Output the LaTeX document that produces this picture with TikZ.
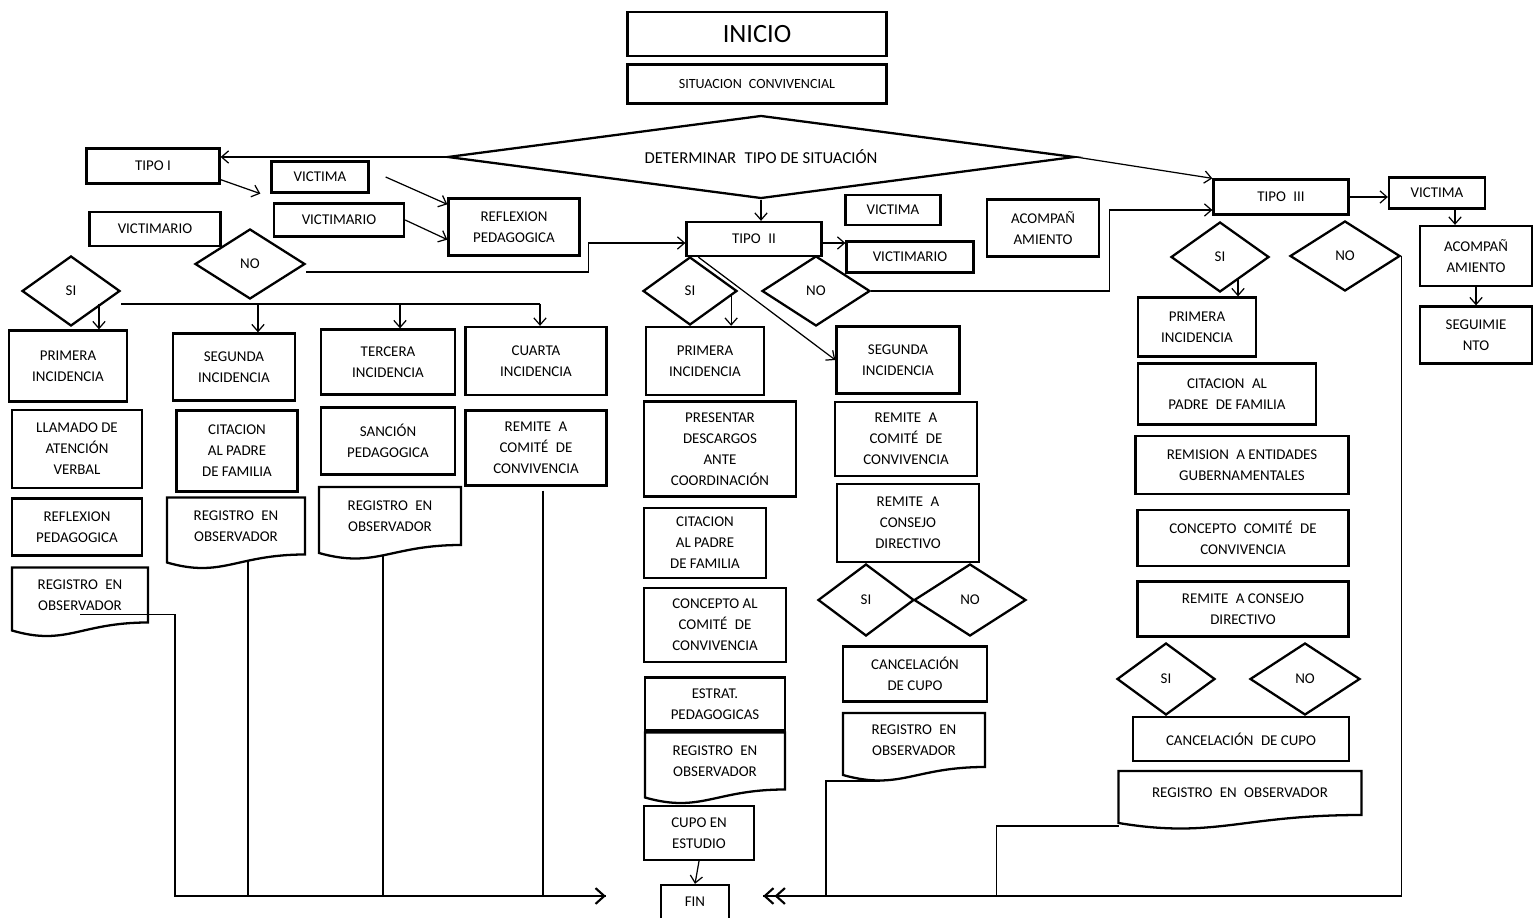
\documentclass[tikz,border=0pt]{standalone}
\usepackage{fontspec}
\setmainfont{Carlito}
\usetikzlibrary{shapes.geometric,calc,arrows.meta}

\tikzset{
  box/.style={draw, line width=1.3pt, align=center, inner sep=1pt, font=\fontsize{8.5}{12}\selectfont},
  docbox/.style={align=center, inner sep=1pt, outer sep=0pt, font=\fontsize{8.5}{12}\selectfont},
  decision/.style={draw, diamond, line width=1.3pt, inner sep=0pt, font=\fontsize{8.5}{12}\selectfont},
  sz/.style 2 args={minimum width=#1*0.02cm, minimum height=#2*0.02cm},
  link/.style={line width=0.7pt, -{Straight Barb[length=4pt,width=7pt]}},
  wire/.style={line width=0.7pt},
  bus/.style={line width=1.2pt},
}

% document shape: straight top and sides, wavy bottom
\newcommand{\docshape}[1]{%
  \draw[line width=1.3pt] (#1.north west) -- (#1.north east) -- (#1.south east)
    .. controls (#1.south) and ($(#1.south west)!0.4!(#1.south east)+(0,24)$)
    .. ($(#1.south west)+(0,8)$) -- cycle;}

\begin{document}
\begin{tikzpicture}[x=0.02cm, y=-0.02cm]

    \useasboundingbox[fill=white] (0,0) rectangle (1534,918);

    % Start and first decision
    \node[box, sz={259}{44}, font=\fontsize{15}{18}\selectfont] (inicio) at (757,34) {INICIO};
    \node[box, sz={259}{39}, font=\fontsize{8}{10}\selectfont] (situacion) at (757,84) {SITUACION\enspace CONVIVENCIAL};
    \node[decision, sz={627}{83}, aspect=7.55, font=\fontsize{9.5}{12}\selectfont] (determinar) at (761,157) {DETERMINAR\enspace TIPO DE SITUACIÓN};

    % Tipo I
    \node[box, sz={133}{35}] (tipoI) at (153,166) {TIPO I};
    \node[box, sz={97}{31}] (victimaI) at (320,177) {VICTIMA};
    \node[box, sz={130}{33}] (victimarioA) at (339,220) {VICTIMARIO};
    \node[box, sz={131}{34}] (victimarioB) at (155,229) {VICTIMARIO};
    \node[box, sz={131}{57}] (reflexionA) at (514,227) {REFLEXION\\PEDAGOGICA};
    \node[decision, sz={110}{70}] (noI) at (250,264) {NO};
    \node[decision, sz={98}{70}] (siI) at (71,291) {SI};

    % Tipo I - incidencias
    \node[box, sz={118}{71}] (primeraI) at (68,366) {PRIMERA\\INCIDENCIA};
    \node[box, sz={130}{78}] (llamado) at (77,449) {LLAMADO DE\\ATENCIÓN\\VERBAL};
    \node[box, sz={130}{57}] (reflexionB) at (77,527) {REFLEXION\\PEDAGOGICA};
    \node[docbox, sz={136}{55}] (registroA) at (80,595) {REGISTRO\enspace EN\\OBSERVADOR};

    \node[box, sz={122}{67}] (segundaI) at (234,367) {SEGUNDA\\INCIDENCIA};
    \node[box, sz={121}{81}] (citacionI) at (237,451) {CITACION\\AL PADRE\\DE FAMILIA};
    \node[docbox, sz={138}{57}] (registroB) at (236,526) {REGISTRO\enspace EN\\OBSERVADOR};

    \node[box, sz={134}{65}] (terceraI) at (388,362) {TERCERA\\INCIDENCIA};
    \node[box, sz={134}{67}] (sancion) at (388,441) {SANCIÓN\\PEDAGOGICA};
    \node[docbox, sz={142}{58}] (registroC) at (390,516) {REGISTRO\enspace EN\\OBSERVADOR};

    \node[box, sz={141}{68}] (cuartaI) at (536,361) {CUARTA\\INCIDENCIA};
    \node[box, sz={141}{75}] (remiteA) at (536,448) {REMITE\enspace A\\COMITÉ\enspace DE\\CONVIVENCIA};

    % Tipo II
    \node[box, sz={135}{34}] (tipoII) at (754,239) {TIPO\enspace II};
    \node[box, sz={95}{30}] (victimaII) at (893,210) {VICTIMA};
    \node[box, sz={127}{31}] (victimarioC) at (910,257) {VICTIMARIO};
    \node[box, sz={112}{57}] (acompA) at (1043,228) {ACOMPAÑ\\AMIENTO};
    \node[decision, sz={94}{68}] (siII) at (690,291) {SI};
    \node[decision, sz={108}{70}] (noII) at (816,291) {NO};

    \node[box, sz={118}{68}] (primeraII) at (705,361) {PRIMERA\\INCIDENCIA};
    \node[box, sz={152}{95}] (presentar) at (720,449) {PRESENTAR\\DESCARGOS\\ANTE\\COORDINACIÓN};
    \node[box, sz={122}{70}] (citacionII) at (705,543) {CITACION\\AL PADRE\\DE FAMILIA};
    \node[box, sz={142}{74}] (conceptoA) at (715,625) {CONCEPTO AL\\COMITÉ\enspace DE\\CONVIVENCIA};
    \node[box, sz={140}{53}] (estrat) at (715,704) {ESTRAT.\\PEDAGOGICAS};
    \node[docbox, sz={140}{57}] (registroD) at (715,761) {REGISTRO\enspace EN\\OBSERVADOR};
    \node[box, sz={110}{54}] (cupo) at (699,833) {CUPO EN\\ESTUDIO};
    \node[box, sz={68}{34}] (fin) at (695,902) {FIN};

    \node[box, sz={123}{67}] (segundaII) at (898,360) {SEGUNDA\\INCIDENCIA};
    \node[box, sz={142}{74}] (remiteB) at (906,439) {REMITE\enspace A\\COMITÉ\enspace DE\\CONVIVENCIA};
    \node[box, sz={142}{78}] (remiteC) at (908,523) {REMITE\enspace A\\CONSEJO\\DIRECTIVO};
    \node[decision, sz={96}{72}] (siIIb) at (866,600) {SI};
    \node[decision, sz={112}{72}] (noIIb) at (970,600) {NO};
    \node[box, sz={144}{55}] (cancelA) at (915,674) {CANCELACIÓN\\DE CUPO};
    \node[docbox, sz={142}{54}] (registroE) at (914,740) {REGISTRO\enspace EN\\OBSERVADOR};

    % Tipo III
    \node[box, sz={135}{35}] (tipoIII) at (1281,197) {TIPO\enspace III};
    \node[box, sz={96}{31}] (victimaIII) at (1437,193) {VICTIMA};
    \node[box, sz={112}{60}] (acompB) at (1476,256) {ACOMPAÑ\\AMIENTO};
    \node[box, sz={112}{57}] (seguim) at (1476,335) {SEGUIMIE\\NTO};
    \node[decision, sz={98}{70}] (siIII) at (1220,257) {SI};
    \node[decision, sz={110}{70}] (noIII) at (1345,256) {NO};
    \node[box, sz={118}{59}] (primeraIII) at (1197,327) {PRIMERA\\INCIDENCIA};
    \node[box, sz={178}{61}] (citacionIII) at (1227,394) {CITACION\enspace AL\\PADRE\enspace DE FAMILIA};
    \node[box, sz={213}{58}] (remision) at (1242,465) {REMISION\enspace A ENTIDADES\\GUBERNAMENTALES};
    \node[box, sz={211}{56}] (conceptoB) at (1243,538) {CONCEPTO\enspace COMITÉ\enspace DE\\CONVIVENCIA};
    \node[box, sz={211}{55}] (remiteD) at (1243,609) {REMITE\enspace A CONSEJO\\DIRECTIVO};
    \node[decision, sz={98}{72}] (siIIIb) at (1166,679) {SI};
    \node[decision, sz={110}{72}] (noIIIb) at (1305,679) {NO};
    \node[box, sz={216}{44}] (cancelB) at (1241,739) {CANCELACIÓN\enspace DE CUPO};
    \node[docbox, sz={243}{44}] (registroF) at (1240,793) {REGISTRO\enspace EN\enspace OBSERVADOR};

    % wavy document outlines
    \foreach \d in {registroA,registroB,registroC,registroD,registroE,registroF}
        \docshape{\d};

    % Tipo I connectors
    \draw[link] (determinar.west) -- (determinar.west -| tipoI.east);
    \draw[link] ([yshift=0.1cm]tipoI.south east) -- ([xshift=-0.2cm]victimaI.south west);
    \draw[link] ([xshift=0.32cm]victimaI.east) -- ([yshift=-0.14cm]reflexionA.north west);
    \draw[link] (victimarioA.east) -- ([yshift=0.34cm]reflexionA.south west);
    \draw[link] ([yshift=-0.16cm]noI.east) -- ++(282,0) |- ([yshift=-0.08cm]tipoII.west);
    \coordinate (busI) at ($(siI.east)+(0,13)$);
    \draw[wire] (busI) -- ([xshift=0.08cm]busI -| cuartaI.north);
    \foreach \n/\dx in {primeraI/0.62, segundaI/0.48, terceraI/0.24, cuartaI/0.08}
        \draw[link] ([xshift=\dx cm]busI -| \n.north) -- ([xshift=\dx cm]\n.north);

    % Tipo II connectors
    \draw[link] (determinar.south) -- (determinar.south |- tipoII.north);
    \draw[link] ([yshift=-0.08cm]tipoII.east) -- ([yshift=-0.08cm]tipoII.east -| victimarioC.west);
    \draw[link] ([xshift=0.26cm]tipoII.south west) -- (segundaII.west);
    \draw[link] ([xshift=-0.14cm,yshift=-0.1cm]siII.east) -- ([xshift=-0.14cm]siII.east |- primeraII.north);
    \draw[link] (noII.east) -- ++(238,0) |- ([yshift=-0.26cm]tipoIII.west);
    \draw[link] (cupo.south) -- (fin.north);

    % Tipo III connectors
    \draw[link] (determinar.east) -- (tipoIII.north west);
    \draw[link] (tipoIII.east) -- (tipoIII.east -| victimaIII.west);
    \draw[link] ([xshift=0.36cm]victimaIII.south) -- ([xshift=0.36cm]victimaIII.south |- acompB.north);
    \draw[link] (acompB.south) -- (seguim.north);
    \draw[link] ([xshift=0.36cm,yshift=0.3cm]siIII.south) -- ([xshift=0.36cm]siIII.south |- primeraIII.north);

    % lines down to FIN
    \coordinate (finL) at ([xshift=-1.08cm,yshift=0.12cm]fin.west);
    \coordinate (finR) at ([xshift=0.66cm,yshift=0.12cm]fin.east);
    \draw[wire] ([yshift=0.16cm]registroA.south) -- ++(95,0) coordinate (cornerA) |- (finL);
    \draw[wire] ([xshift=0.24cm,yshift=-0.14cm]registroB.south) -- ([xshift=0.24cm]registroB.south |- finL);
    \draw[wire] ([xshift=-0.14cm,yshift=-0.2cm]registroC.south) -- ([xshift=-0.14cm]registroC.south |- finL);
    \draw[wire] ([xshift=0.14cm,yshift=-0.08cm]remiteA.south) -- ([xshift=0.14cm]remiteA.south |- finL);
    \draw[bus, -{Straight Barb[length=5pt,width=9pt]}] (cornerA |- finL) -- (finL);

    \draw[wire] (noIII.east) |- (finR);
    \draw[wire] ([yshift=-0.22cm]registroF.south west) -- ++(-122,0) |- (finR);
    \draw[wire] ([xshift=-0.68cm,yshift=-0.28cm]registroE.south) -- ++(-54,0) |- (finR);
    \draw[bus, -{Straight Barb[length=5pt,width=9pt] Straight Barb[length=5pt,width=9pt]}] (noIII.east |- finR) -- (finR);

\end{tikzpicture}
\end{document}
